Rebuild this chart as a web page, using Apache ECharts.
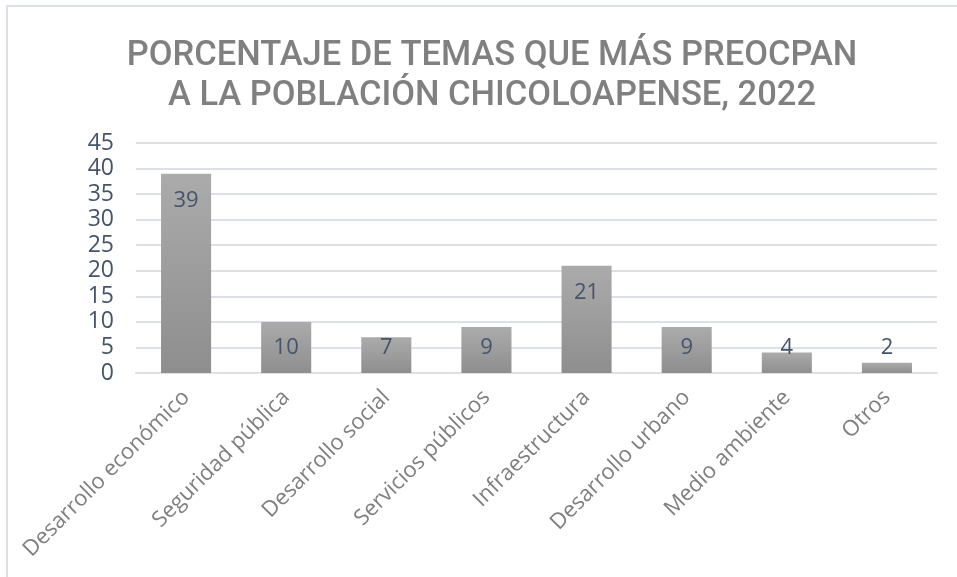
<!DOCTYPE html>
<html>
<head>
<meta charset="utf-8">
<script src="https://cdn.jsdelivr.net/npm/echarts@6/dist/echarts.min.js"></script>
<style>
  html, body { margin: 0; padding: 0; background: #ffffff; }
  #chart { width: 957px; height: 577px; }
</style>
</head>
<body>
<div id="chart"></div>
<script>
// Topics of concern for the Chicoloapan population, 2022 (percent)
const categories = [
  'Desarrollo económico',
  'Seguridad pública',
  'Desarrollo social',
  'Servicios públicos',
  'Infraestructura',
  'Desarrollo urbano',
  'Medio ambiente',
  'Otros'
];
const percentages = [39, 10, 7, 9, 21, 9, 4, 2];
const yTicks = [0, 5, 10, 15, 20, 25, 30, 35, 40, 45];

const chart = echarts.init(document.getElementById('chart'), null, { renderer: 'canvas' });

const gridColor = '#dde1e7';
const valueColor = '#44546a';

chart.setOption({
  backgroundColor: '#ffffff',
  animation: false,
  title: {
    text: 'PORCENTAJE DE TEMAS QUE MÁS PREOCPAN\nA LA POBLACIÓN CHICOLOAPENSE, 2022',
    left: 487,
    textAlign: 'center',
    top: 31,
    textStyle: {
      fontFamily: 'Roboto',
      fontSize: 34.5,
      fontWeight: 500,
      color: '#808080',
      lineHeight: 40
    }
  },
  graphic: [
    { type: 'line', shape: { x1: 6, y1: 6, x2: 957, y2: 6 }, style: { stroke: gridColor, lineWidth: 2 } },
    { type: 'line', shape: { x1: 7, y1: 6, x2: 7, y2: 577 }, style: { stroke: gridColor, lineWidth: 2 } }
  ],
  grid: { left: 136, right: 20, top: 143, bottom: 204 },
  xAxis: {
    type: 'category',
    data: categories,
    axisTick: { show: false },
    axisLine: { show: true, lineStyle: { color: gridColor, width: 2 } },
    axisLabel: {
      rotate: 45,
      margin: 21,
      interval: 0,
      color: '#7f7f7f',
      fontFamily: 'Open Sans',
      fontSize: 22
    }
  },
  yAxis: {
    type: 'value',
    min: yTicks[0],
    max: yTicks[yTicks.length - 1],
    interval: 5,
    axisLine: { show: false },
    axisTick: { show: false },
    splitLine: { lineStyle: { color: gridColor, width: 2 } },
    axisLabel: {
      margin: 22,
      color: valueColor,
      fontFamily: 'Open Sans',
      fontSize: 23
    }
  },
  series: [{
    type: 'bar',
    data: percentages,
    barWidth: '50%',
    itemStyle: {
      color: new echarts.graphic.LinearGradient(0, 0, 0, 1, [
        { offset: 0, color: '#ababab' },
        { offset: 1, color: '#8e8e8e' }
      ])
    },
    label: {
      show: true,
      position: 'insideTop',
      color: valueColor,
      fontFamily: 'Open Sans',
      fontSize: 22
    },
    // Keep labels near the bar top, but never closer than 25px to the baseline
    labelLayout: function (params) {
      const r = params.rect;
      const cy = Math.min(r.y + 27, r.y + r.height - 25);
      return {
        x: r.x + r.width / 2,
        y: cy,
        align: 'center',
        verticalAlign: 'middle'
      };
    }
  }]
});
</script>
</body>
</html>
